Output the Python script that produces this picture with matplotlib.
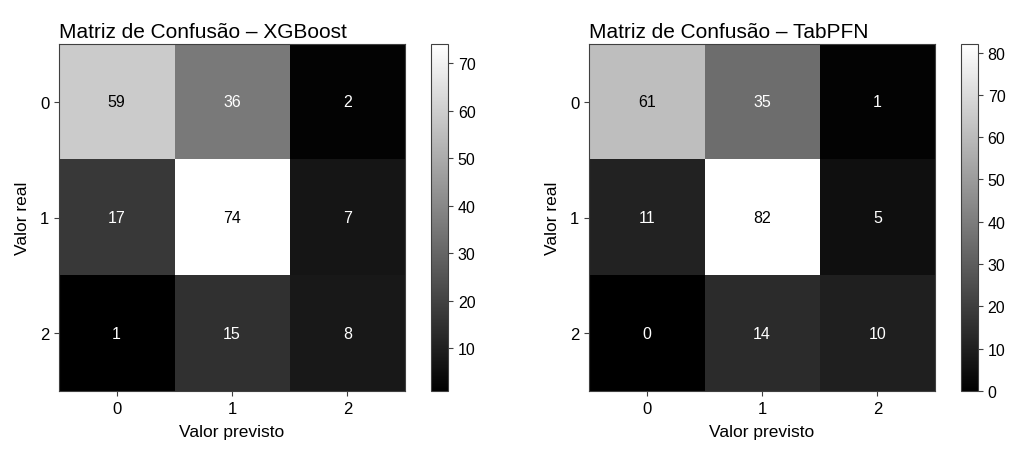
import numpy as np
import matplotlib
matplotlib.use('Agg')
import matplotlib.pyplot as plt

plt.rcParams['font.family'] = ['Liberation Sans', 'DejaVu Sans']
plt.rcParams['axes.edgecolor'] = '#404040'

classes = ['0', '1', '2']
cm_xgb = np.array([[59, 36, 2],
                   [17, 74, 7],
                   [1, 15, 8]])
cm_tab = np.array([[61, 35, 1],
                   [11, 82, 5],
                   [0, 14, 10]])
titles = ['Matriz de Confusão – XGBoost', 'Matriz de Confusão – TabPFN']

fig = plt.figure(figsize=(10.24, 4.6), dpi=100)
ax_pos = [[0.0576, 0.148, 0.338, 0.754], [0.5752, 0.148, 0.338, 0.754]]
cb_pos = [[0.421, 0.148, 0.0166, 0.754], [0.9385, 0.148, 0.0166, 0.754]]

for cm, title, ap, cp in zip([cm_xgb, cm_tab], titles, ax_pos, cb_pos):
    ax = fig.add_axes(ap)
    cax = fig.add_axes(cp)
    im = ax.imshow(cm, cmap='gray', interpolation='nearest', aspect='auto')
    cmap = im.cmap
    thresh = (cm.max() + cm.min()) / 2
    # texto preto em celulas claras, branco nas escuras
    for i in range(cm.shape[0]):
        for j in range(cm.shape[1]):
            color = cmap(0.0) if cm[i, j] >= thresh else cmap(1.0)
            ax.text(j, i, str(cm[i, j]), ha='center', va='center', color=color, fontsize=11.5)
    ax.set_xticks(range(len(classes)))
    ax.set_yticks(range(len(classes)))
    ax.set_xticklabels(classes, fontsize=12)
    ax.set_yticklabels(classes, fontsize=12)
    ax.tick_params(color='#404040')
    ax.set_xlabel('Valor previsto', fontsize=12.5, labelpad=6)
    ax.set_ylabel('Valor real', fontsize=12.5, labelpad=7)
    ax.set_title(title, loc='left', fontsize=15, pad=5)
    cb = fig.colorbar(im, cax=cax)
    cb.outline.set_edgecolor('#404040')
    cb.ax.tick_params(labelsize=11.5, color='#404040')

fig.savefig('out.png', dpi=100)
